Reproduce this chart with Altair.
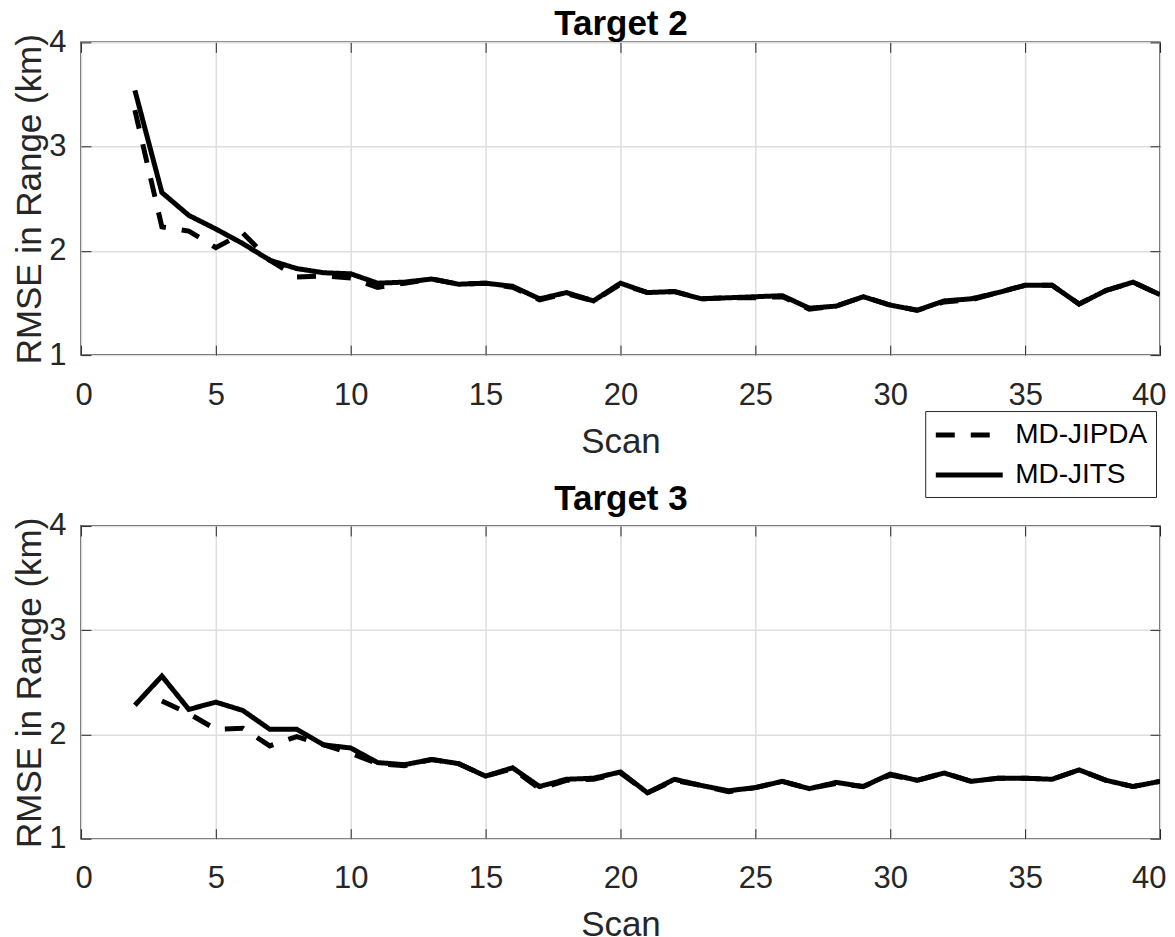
import altair as alt
import pandas as pd

scans = list(range(2, 41))

t2_jits = [3.54, 2.56, 2.34, 2.21, 2.07, 1.91, 1.83, 1.79, 1.78, 1.69,
           1.70, 1.73, 1.68, 1.69, 1.66, 1.54, 1.60, 1.52, 1.69, 1.60,
           1.61, 1.54, 1.55, 1.56, 1.57, 1.45, 1.47, 1.56, 1.48, 1.43,
           1.52, 1.54, 1.60, 1.67, 1.67, 1.49, 1.62, 1.70, 1.58]
t2_jipda = [3.35, 2.23, 2.19, 2.03, 2.17, 1.91, 1.75, 1.76, 1.74, 1.65,
            1.69, 1.73, 1.68, 1.69, 1.65, 1.53, 1.59, 1.52, 1.68, 1.60,
            1.61, 1.54, 1.55, 1.55, 1.56, 1.44, 1.47, 1.56, 1.48, 1.43,
            1.51, 1.53, 1.60, 1.67, 1.67, 1.49, 1.62, 1.70, 1.58]

t3_jits = [2.28, 2.56, 2.24, 2.31, 2.23, 2.05, 2.05, 1.90, 1.87, 1.73,
           1.71, 1.76, 1.72, 1.60, 1.68, 1.50, 1.57, 1.58, 1.64, 1.44,
           1.57, 1.51, 1.46, 1.49, 1.55, 1.48, 1.54, 1.50, 1.62, 1.56,
           1.63, 1.55, 1.58, 1.58, 1.57, 1.66, 1.56, 1.50, 1.55]
t3_jipda = [None, 2.32, 2.20, 2.05, 2.06, 1.89, 1.98, 1.90, 1.82, 1.72,
            1.70, 1.76, 1.72, 1.60, 1.67, 1.48, 1.56, 1.57, 1.63, 1.44,
            1.56, 1.51, 1.45, 1.49, 1.55, 1.48, 1.53, 1.50, 1.61, 1.56,
            1.63, 1.55, 1.58, 1.58, 1.57, 1.66, 1.56, 1.50, 1.55]

methods = ["MD-JIPDA", "MD-JITS"]
x_ticks = list(range(0, 41, 5))
y_ticks = [1, 2, 3, 4]

rows = []
for tgt, series in (("Target 2", {"MD-JIPDA": t2_jipda, "MD-JITS": t2_jits}),
                    ("Target 3", {"MD-JIPDA": t3_jipda, "MD-JITS": t3_jits})):
    for m in methods:
        for s, v in zip(scans, series[m]):
            if v is not None:
                rows.append({"target": tgt, "method": m, "scan": s, "rmse": v})
df = pd.DataFrame(rows)

FONT = "Liberation Sans"
AX = "#262626"
TICK = 10

legend = alt.Legend(
    title=None, orient="none", legendX=845, legendY=369,
    symbolType="M-1,0H4", symbolSize=718, symbolStrokeWidth=5,
    symbolStrokeColor="black",
    labelFontSize=28, labelFont=FONT, labelColor="black", labelOffset=50,
    rowPadding=10, padding=8, strokeColor=AX, fillColor="white",
)

xscale = alt.Scale(domain=[0, 40], nice=False)
yscale = alt.Scale(domain=[1, 4], nice=False)


def panel(tgt, title_gap):
    data = df[df.target == tgt]
    lines = alt.Chart(data).mark_line(
        strokeWidth=5, color="black", clip=True
    ).encode(
        x=alt.X("scan:Q", scale=xscale,
                axis=alt.Axis(values=x_ticks, title="Scan", format="d",
                              orient="bottom", offset=-TICK, tickSize=TICK,
                              ticks=True, tickColor=AX, grid=True,
                              labelFlush=True, labelFlushOffset=6)),
        y=alt.Y("rmse:Q", scale=yscale,
                axis=alt.Axis(values=y_ticks, title="RMSE in Range (km)", format="d",
                              orient="left", offset=-TICK, tickSize=TICK,
                              ticks=True, tickColor=AX, grid=True,
                              labelFlush=False)),
        strokeDash=alt.StrokeDash(
            "method:N",
            scale=alt.Scale(domain=methods, range=[[19, 16], [1, 0]]),
            legend=legend,
        ),
        detail="method:N",
    )
    frame = alt.Chart(data).mark_line(opacity=0).encode(
        x=alt.X("scan:Q", scale=xscale,
                axis=alt.Axis(values=x_ticks, title=tgt, orient="top", labels=False,
                              offset=-TICK, tickSize=TICK, ticks=True, tickColor=AX,
                              grid=False, titleY=-title_gap - TICK,
                              titleBaseline="alphabetic",
                              titleFontWeight="bold", titleColor="black",
                              titleFontSize=35)),
        y=alt.Y("rmse:Q", scale=yscale,
                axis=alt.Axis(values=y_ticks, title=None, orient="right", labels=False,
                              offset=-TICK, tickSize=TICK, ticks=True, tickColor=AX,
                              grid=False)),
        detail="method:N",
    )
    return alt.layer(lines, frame).properties(width=1080, height=313)


chart = alt.vconcat(panel("Target 2", 8), panel("Target 3", 16), spacing=21).properties(
    padding={"left": 4, "top": -3, "right": 0, "bottom": 0},
    background="white",
).configure_view(
    stroke=AX, strokeWidth=1.5
).configure_axis(
    labelFont=FONT, labelFontSize=31, labelColor=AX,
    titleFont=FONT, titleFontSize=35, titleColor=AX, titleFontWeight="normal",
    domain=False, gridColor="#dedede", gridWidth=1.5,
).configure_axisX(
    labelPadding=25, titlePadding=14,
).configure_axisY(
    labelPadding=15, titlePadding=1,
)

chart.save("out.html", embed_options={"renderer": "svg", "actions": False})
